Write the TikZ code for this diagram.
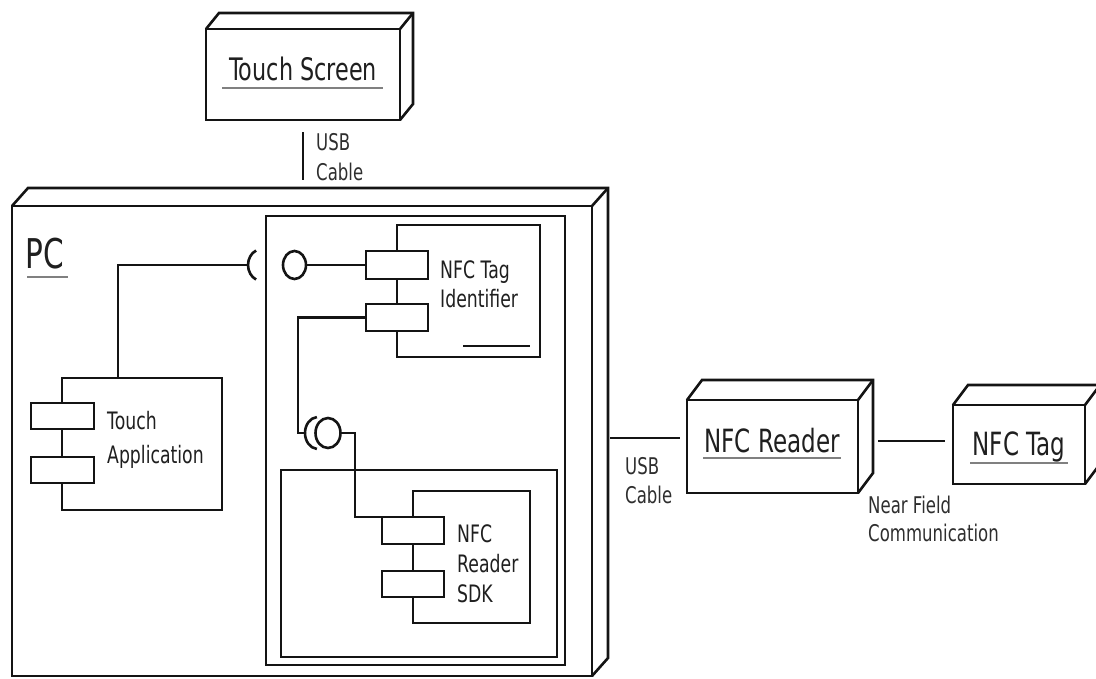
\documentclass[tikz,border=0pt]{standalone}
\usepackage{fontspec}
\setmainfont{DejaVu Sans}[FakeStretch=0.72]
\usetikzlibrary{calc,shapes.geometric}

% side and top faces of a 3D deployment node
\newcommand\nodefaces[3]{%
  \draw[ink, line join=miter] (#1.north west) -- ++(#2,#3)
    -- ($(#1.north east)+(#2,#3)$) -- ($(#1.south east)+(#2,#3)$) -- (#1.south east);
  \draw[ink] (#1.north east) -- ++(#2,#3);
}

\begin{document}
\begin{tikzpicture}[x=1pt,y=-1pt,
  ink/.style={line width=2.6pt, draw=black!92},
  box/.style={ink, fill=white, inner sep=0pt, outer sep=0pt, anchor=north west},
  portbox/.style={box, minimum width=62pt},
  lolli/.style={ellipse, ink, fill=white, inner sep=0pt, outer sep=0pt},
  uline/.style={line width=2.2pt, draw=black!50},
  lbl/.style={inner sep=0pt, text=black!88, anchor=base west},
  title/.style={lbl, font=\fontsize{32}{38}\selectfont},
  comptext/.style={lbl, font=\fontsize{24}{29}\selectfont},
  linktext/.style={lbl, font=\fontsize{23}{28}\selectfont, text=black!82},
]
\useasboundingbox (0,0) rectangle (1096,678);
\clip (0,0) rectangle (1096,678);

% ---------------- Touch Screen ----------------
\node[box, minimum width=194pt, minimum height=91pt] (ts) at (206,29) {};
\nodefaces{ts}{13}{-16}
\node[title, anchor=base, font=\fontsize{31}{37}\selectfont] (tslabel) at (303,80) {Touch Screen};
\draw[uline] (222,88) -- (383,88);

% USB link between the screen and the PC
\coordinate (usb1a) at (303,132);
\coordinate (usb1b) at (303,180);
\draw[ink] (usb1a) -- (usb1b);
\node[linktext] (usb1t1) at (316,150) {USB};
\node[linktext] (usb1t2) at (316,180) {Cable};

% ---------------- PC ----------------
\node[box, minimum width=580pt, minimum height=470pt] (pc) at (12,206) {};
\nodefaces{pc}{16}{-18}
\node[lbl, font=\fontsize{41}{48}\selectfont] (pclabel) at (25,268) {PC};
\draw[uline] (27,277) -- (68,277);

% containers
\node[box, minimum width=299pt, minimum height=449pt] (cont) at (266,216) {};
\node[box, minimum width=276pt, minimum height=187pt] (sdkc) at (281,470) {};

% ---------------- NFC Tag Identifier component ----------------
\node[box, minimum width=143pt, minimum height=132pt] (tagid) at (397,225) {};
\node[portbox, minimum height=28pt] (tp1) at (366,251) {};
\node[portbox, minimum height=27pt] (tp2) at (366,304) {};
\node[comptext] (tagidt1) at (440,278) {NFC Tag};
\node[comptext] (tagidt2) at (440,307) {Identifier};
\coordinate (tagbar1) at (463,346);
\coordinate (tagbar2) at (530,346);
\draw[ink] (tagbar1) -- (tagbar2);

% ---------------- Touch Application component ----------------
\node[box, minimum width=160pt, minimum height=132pt] (ta) at (62,378) {};
\node[portbox, minimum width=63pt, minimum height=26pt] (ap1) at (31,403) {};
\node[portbox, minimum width=63pt, minimum height=26pt] (ap2) at (31,457) {};
\node[comptext] (tat1) at (107,429) {Touch};
\node[comptext] (tat2) at (107,463) {Application};

% ---------------- NFC Reader SDK component ----------------
\node[box, minimum width=117pt, minimum height=132pt] (sdk) at (413,491) {};
\node[portbox, minimum height=27pt] (sp1) at (382,517) {};
\node[portbox, minimum height=26pt] (sp2) at (382,571) {};
\node[comptext] (sdkt1) at (457,542) {NFC};
\node[comptext] (sdkt2) at (457,572) {Reader};
\node[comptext] (sdkt3) at (457,602) {SDK};

% ---------------- interfaces ----------------
% required interface of the touch application
\coordinate (tajoin) at (118,378);
\coordinate (sock1) at (248,265);
\draw[ink] (tajoin) |- (sock1);
\draw[ink] (sock1) arc[start angle=180, end angle=115, x radius=14, y radius=16];
\draw[ink] (sock1) arc[start angle=180, end angle=245, x radius=14, y radius=16];
% provided interface of the tag identifier
\node[lolli, minimum width=23pt, minimum height=28pt] (lol1) at (294.5,265) {};
\draw[ink] (lol1.east) -- (lol1.east -| tp1.west);

% tag identifier uses the reader SDK
\coordinate (bend2) at (298,433);
\coordinate (sock2) at (305,433);
\draw[ink] (tp2.west) -| (bend2) -- (sock2);
\draw[ink] (sock2) arc[start angle=180, end angle=95, x radius=13, y radius=16];
\draw[ink] (sock2) arc[start angle=180, end angle=265, x radius=13, y radius=16];
\node[lolli, minimum width=25pt, minimum height=30pt] (lol2) at (328,433) {};
\coordinate (bend3) at (355,433);
\draw[ink] (lol2.east) -- (bend3) |- (sp1.north west);

% ---------------- NFC Reader ----------------
\node[box, minimum width=171pt, minimum height=93pt] (reader) at (687,400) {};
\nodefaces{reader}{15}{-20}
\node[title, anchor=base] (readerlabel) at (772,452) {NFC Reader};
\draw[uline] (703,458) -- (841,458);

\coordinate (usb2a) at (610,438);
\draw[ink, shorten >=7pt] (usb2a) -- (usb2a -| reader.west);
\node[linktext] (usb2t1) at (625,474) {USB};
\node[linktext] (usb2t2) at (625,503) {Cable};

% ---------------- NFC Tag ----------------
\node[box, minimum width=132pt, minimum height=79pt] (tag) at (953,405) {};
\nodefaces{tag}{15}{-20}
\node[title, anchor=base] (taglabel) at (1019,455) {NFC Tag};
\draw[uline] (970,463) -- (1068,463);

\coordinate (nfa) at (878,441);
\draw[ink, shorten >=8pt] (nfa) -- (nfa -| tag.west);
\node[linktext] (nft1) at (868,513) {Near Field};
\node[linktext] (nft2) at (868,541) {Communication};
\end{tikzpicture}
\end{document}
